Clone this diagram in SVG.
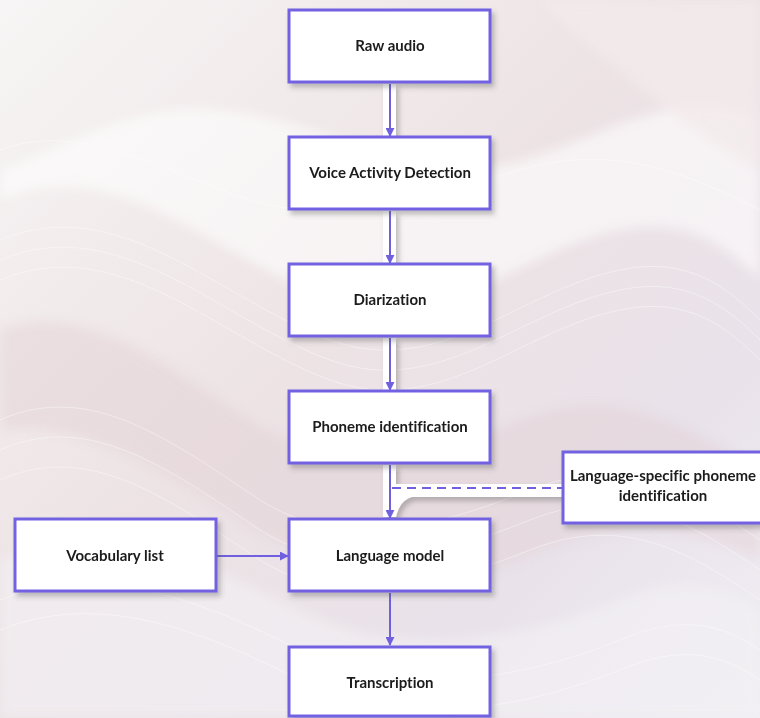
<svg xmlns="http://www.w3.org/2000/svg" width="760" height="718" viewBox="0 0 760 718">
<defs>
<linearGradient id="bg" x1="0" y1="0" x2="1" y2="1">
<stop offset="0" stop-color="#f7f5f5"/>
<stop offset="0.45" stop-color="#ede3e5"/>
<stop offset="0.75" stop-color="#e9e2ea"/>
<stop offset="1" stop-color="#f1eff4"/>
</linearGradient>
<filter id="sh" x="-10%" y="-10%" width="130%" height="140%">
<feDropShadow dx="3" dy="4" stdDeviation="2.5" flood-color="#555" flood-opacity="0.35"/>
</filter>
<filter id="blur"><feGaussianBlur stdDeviation="6"/></filter>
<marker id="ah" viewBox="0 0 10 10" refX="9" refY="5" markerWidth="4.5" markerHeight="4.5" orient="auto">
<path d="M0 0 L10 5 L0 10 Z" fill="#7060e0"/>
</marker>
<style>
.box{fill:#ffffff;stroke:#7262e2;stroke-width:3}
.lbl{font-family:Lato,"Noto Sans",sans-serif;font-weight:700;font-size:15px;fill:#1a1a1a;text-anchor:middle;font-variant-ligatures:none}
.ln{stroke:#7060e0;stroke-width:2;fill:none}
.band{fill:#ffffff}
</style>
</defs>
<rect width="760" height="718" fill="url(#bg)"/>
<g opacity="0.8" filter="url(#blur)">
<path d="M0 200 C120 150 220 260 330 300 C440 340 520 250 620 230 C690 215 730 250 760 280 L760 120 C680 80 600 140 520 160 C420 190 330 120 220 110 C130 100 60 150 0 170 Z" fill="#ffffff" opacity="0.7"/>
<path d="M0 330 C80 300 160 360 250 420 C330 470 420 460 520 420 C620 380 690 430 760 470 L760 560 C680 520 600 520 520 560 C430 600 330 580 240 520 C150 460 70 420 0 430 Z" fill="#e2d0d5" opacity="0.6"/>
<path d="M0 560 C100 520 200 560 300 610 C400 660 520 640 620 600 C690 570 730 590 760 610 L760 718 L0 718 Z" fill="#f2f0f4" opacity="0.8"/>
<path d="M540 0 C600 60 700 140 760 170 L760 0 Z" fill="#f5ecec" opacity="0.8"/>
</g>
<g fill="none" stroke="#ffffff" stroke-width="1" opacity="0.4">
<path d="M0 240 C120 190 220 300 330 340 C440 380 520 290 620 270 C690 255 730 290 760 320"/>
<path d="M0 260 C120 210 220 320 330 360 C440 400 520 310 620 290 C690 275 730 310 760 340"/>
<path d="M0 280 C120 230 220 340 330 380 C440 420 520 330 620 310 C690 295 730 330 760 360"/>
<path d="M0 420 C90 380 170 440 260 500 C340 550 430 530 530 490 C630 450 700 500 760 540"/>
<path d="M0 450 C90 410 170 470 260 530 C340 580 430 560 530 520 C630 480 700 530 760 570"/>
<path d="M0 480 C90 440 170 500 260 560 C340 610 430 590 530 550 C630 510 700 560 760 600"/>
<path d="M0 600 C100 560 200 600 300 650 C400 700 520 680 620 640 C690 610 730 630 760 650"/>
<path d="M0 630 C100 590 200 630 300 680 C400 730 520 710 620 670 C690 640 730 660 760 680"/>
<path d="M0 150 C80 120 160 170 250 200 C330 225 420 200 520 170 C620 140 700 180 760 210"/>
</g>
<g id="connectors">
<g filter="url(#sh)">
<rect class="band" x="383" y="84" width="13" height="52"/>
<rect class="band" x="383" y="211" width="13" height="52"/>
<rect class="band" x="383" y="338" width="13" height="52"/>
<path class="band" d="M383 465 L396 465 L396 484 L562 484 L562 497 L412 497 Q400 500 396 517 L383 517 Z"/>
</g>
<line class="ln" x1="390" y1="84" x2="390" y2="136" marker-end="url(#ah)"/>
<line class="ln" x1="390" y1="211" x2="390" y2="263" marker-end="url(#ah)"/>
<line class="ln" x1="390" y1="338" x2="390" y2="390" marker-end="url(#ah)"/>
<line class="ln" x1="390" y1="465" x2="390" y2="518" marker-end="url(#ah)"/>
<line class="ln" x1="392" y1="488" x2="563" y2="488" stroke-dasharray="9 6"/>
<line class="ln" x1="217" y1="556" x2="288" y2="556" marker-end="url(#ah)"/>
<line class="ln" x1="390" y1="593" x2="390" y2="645" marker-end="url(#ah)"/>
</g>
<g id="raw-audio" filter="url(#sh)"><rect class="box" x="289" y="10" width="201" height="72"/><text class="lbl" x="390" y="51">Raw audio</text></g>
<g id="vad" filter="url(#sh)"><rect class="box" x="289" y="137" width="201" height="72"/><text class="lbl" x="390" y="178">Voice Activity Detection</text></g>
<g id="diarization" filter="url(#sh)"><rect class="box" x="289" y="264" width="201" height="72"/><text class="lbl" x="390" y="305">Diarization</text></g>
<g id="phoneme" filter="url(#sh)"><rect class="box" x="289" y="391" width="201" height="72"/><text class="lbl" x="390" y="432">Phoneme identification</text></g>
<g id="lang-specific" filter="url(#sh)"><rect class="box" x="563" y="452" width="215" height="71"/><text class="lbl" x="663" y="481">Language-specific phoneme</text><text class="lbl" x="663" y="501">identification</text></g>
<g id="vocab" filter="url(#sh)"><rect class="box" x="15" y="519" width="201" height="72"/><text class="lbl" x="115" y="561">Vocabulary list</text></g>
<g id="language-model" filter="url(#sh)"><rect class="box" x="289" y="519" width="201" height="72"/><text class="lbl" x="390" y="561">Language model</text></g>
<g id="transcription" filter="url(#sh)"><rect class="box" x="289" y="647" width="201" height="69"/><text class="lbl" x="390" y="688">Transcription</text></g>
</svg>
